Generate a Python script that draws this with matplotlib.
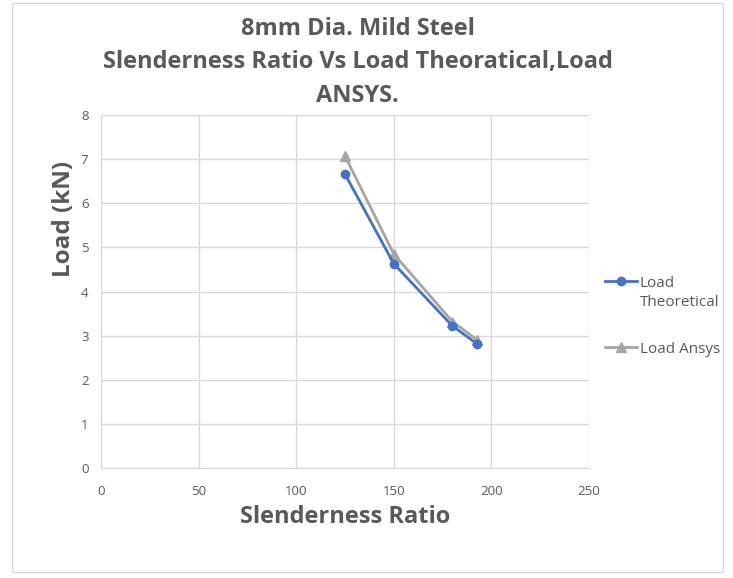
import matplotlib
matplotlib.use("Agg")
import matplotlib.pyplot as plt
from matplotlib.patches import Rectangle

# data
slenderness = [125, 150, 180, 192.8]
load_theoretical = [6.66, 4.63, 3.22, 2.81]
load_ansys = [7.07, 4.85, 3.32, 2.90]

title_lines = ['8mm Dia. Mild Steel',
               'Slenderness Ratio Vs Load Theoratical,Load',
               'ANSYS.']

grey = '#595959'
plt.rcParams['font.family'] = ['Open Sans', 'DejaVu Sans']

fig = plt.figure(figsize=(7.33, 5.78), dpi=100)
ax = fig.add_axes([0.1378, 0.1903, 0.6657, 0.6107])

ax.plot(slenderness, load_theoretical, color='#4472C4', marker='o', markersize=6,
        linewidth=2, label='Load', zorder=3)
ax.plot(slenderness, load_ansys, color='#A5A5A5', marker='^', markersize=7,
        linewidth=2, label='Load Ansys', zorder=2)

ax.set_xlim(0, 250)
ax.set_ylim(0, 8)
ax.set_xticks(range(0, 251, 50))
ax.set_yticks(range(0, 9))
ax.grid(True, color='#D9D9D9', linewidth=1)
ax.set_axisbelow(True)
for s in ['top', 'right']:
    ax.spines[s].set_visible(False)
for s in ['left', 'bottom']:
    ax.spines[s].set_color('#D9D9D9')
ax.tick_params(length=0, labelsize=9.5, colors=grey)
ax.tick_params(axis='x', pad=12)
ax.tick_params(axis='y', pad=9)

ax.set_xlabel('Slenderness Ratio', fontsize=17, fontweight='bold', color=grey)
ax.set_ylabel('Load (kN)', fontsize=17.5, fontweight='bold', color=grey)
ax.xaxis.set_label_coords(0.501, -0.105)
ax.yaxis.set_label_coords(-0.051, 0.705)

for txt, yb in zip(title_lines, [0.9394, 0.8824, 0.8235]):
    fig.text(0.488, yb, txt, ha='center', va='baseline',
             fontsize=17, fontweight='bold', color=grey)

leg = fig.legend(loc='upper left', bbox_to_anchor=(0.825, 0.523), frameon=False,
                 fontsize=11, labelspacing=3.33, handlelength=2.1, handletextpad=0.2,
                 borderpad=0, borderaxespad=0)
for t in leg.get_texts():
    t.set_color(grey)

# lay out the legend first so its text has a position
fig.canvas.draw()
# second line of the first legend label
ax.annotate('Theoretical', xy=(0, 0), xycoords=leg.get_texts()[0],
            xytext=(0, -3), textcoords='offset points', ha='left', va='top',
            fontsize=11, color=grey, annotation_clip=False)

fig.patches.append(Rectangle((0.016, 0.01), 0.97, 0.985, transform=fig.transFigure,
                             fill=False, edgecolor='#D9D9D9', linewidth=1))

fig.savefig('out.png', dpi=100)
